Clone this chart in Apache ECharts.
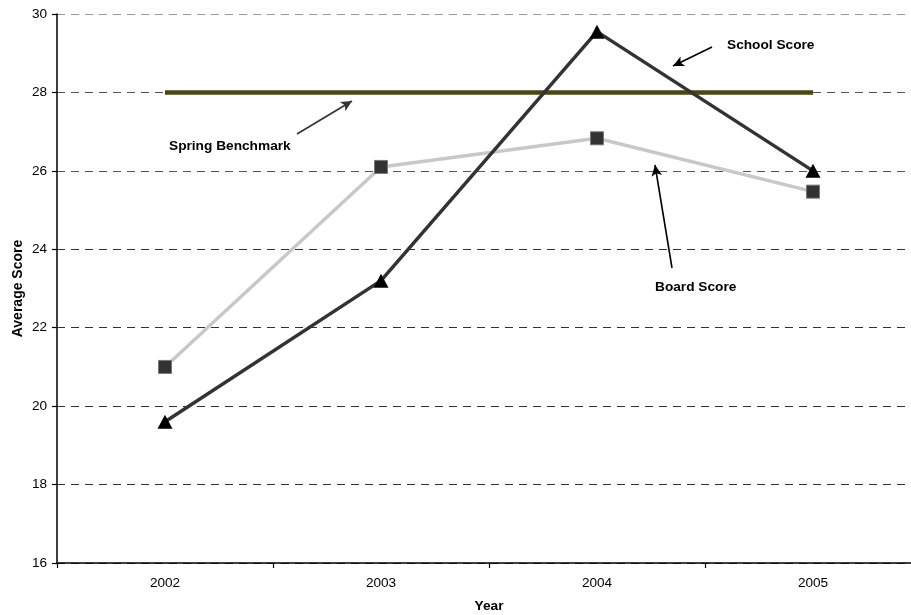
<!DOCTYPE html>
<html>
<head>
<meta charset="utf-8">
<script src="https://cdn.jsdelivr.net/npm/echarts@6/dist/echarts.min.js"></script>
<style>html,body{margin:0;padding:0;background:#fff;}#c{width:911px;height:615px;}</style>
</head>
<body>
<div id="c"></div>
<script>
var years = ['2002', '2003', '2004', '2005'];
var schoolScore = [19.6, 23.2, 29.55, 26.0];
var boardScore = [21.0, 26.1, 26.83, 25.47];
var springBenchmark = [28, 28, 28, 28];
var yTicks = { min: 16, max: 30, interval: 2 };

var FONT = '"Liberation Sans", Arial, sans-serif';
var chart = echarts.init(document.getElementById('c'), null, { renderer: 'canvas' });

function arrow(x1, y1, x2, y2, color) {
  return [{ x: x1, y: y1, symbol: 'none', lineStyle: { color: color, width: 1.6, type: 'solid' } },
          { x: x2, y: y2, symbol: 'arrow', symbolSize: [8, 11] }];
}

chart.setOption({
  animation: false,
  backgroundColor: '#fff',
  grid: { left: 57, top: 14, width: 864, height: 549, containLabel: false, outerBoundsMode: 'none' },
  xAxis: {
    type: 'category',
    data: years,
    boundaryGap: true,
    name: 'Year',
    nameLocation: 'middle',
    nameGap: 36,
    nameMoveOverlap: false,
    nameTextStyle: { fontFamily: FONT, fontSize: 13.7, fontWeight: 'bold', color: '#000' },
    axisLine: { lineStyle: { color: '#000', width: 1.5 } },
    axisTick: { show: true, length: 5, inside: false, alignWithLabel: false, lineStyle: { color: '#000', width: 1.2 } },
    axisLabel: { fontFamily: FONT, fontSize: 13.6, color: '#000', margin: 13 },
    splitLine: { show: false }
  },
  yAxis: {
    type: 'value',
    min: yTicks.min,
    max: yTicks.max,
    interval: yTicks.interval,
    name: 'Average Score',
    nameLocation: 'middle',
    nameGap: 32,
    nameMoveOverlap: false,
    nameRotate: 90,
    nameTextStyle: { fontFamily: FONT, fontSize: 14, fontWeight: 'bold', color: '#000' },
    axisLine: { show: true, lineStyle: { color: '#000', width: 1.5 } },
    axisTick: { show: true, length: 5, inside: false, lineStyle: { color: '#000', width: 1.2 } },
    axisLabel: { fontFamily: FONT, fontSize: 13.6, color: '#000', margin: 10 },
    splitLine: {
      show: true,
      lineStyle: { color: ['#333', '#333', '#333', '#333', '#333', '#555', '#555', '#999'], type: [8, 6], width: 1 }
    }
  },
  series: [
    {
      name: 'Spring Benchmark',
      type: 'line',
      data: springBenchmark,
      symbol: 'none',
      lineStyle: { color: '#4a4712', width: 4.5 },
      z: 2,
      markLine: {
        silent: true,
        animation: false,
        label: { show: false },
        lineStyle: { color: '#222', width: 1.6, type: 'solid' },
        data: [
          arrow(297, 134, 352, 101, '#333'),
          arrow(712, 47, 673, 66, '#000'),
          arrow(672, 268, 655, 165, '#000')
        ]
      }
    },
    {
      name: 'Board Score',
      type: 'line',
      data: boardScore,
      symbol: 'rect',
      symbolSize: 13,
      itemStyle: { color: '#333', borderColor: '#777', borderWidth: 1 },
      lineStyle: { color: '#c8c8c8', width: 3.5 },
      z: 3
    },
    {
      name: 'School Score',
      type: 'line',
      data: schoolScore,
      symbol: 'triangle',
      symbolSize: [15, 14],
      itemStyle: { color: '#000' },
      lineStyle: { color: '#333', width: 3.5 },
      z: 4
    }
  ],
  graphic: [
    { type: 'text', left: 727, top: 38, style: { text: 'School Score', font: 'bold 13.7px ' + FONT, fill: '#000' } },
    { type: 'text', left: 169, top: 139, style: { text: 'Spring Benchmark', font: 'bold 13.7px ' + FONT, fill: '#000' } },
    { type: 'text', left: 655, top: 280, style: { text: 'Board Score', font: 'bold 13.7px ' + FONT, fill: '#000' } }
  ]
});
</script>
</body>
</html>
